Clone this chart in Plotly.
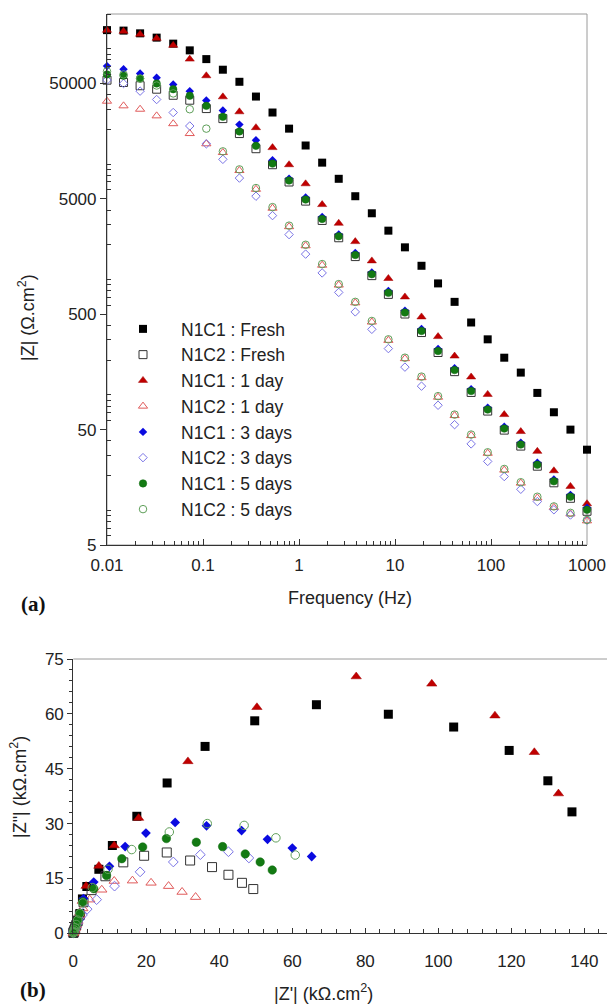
import math
import plotly.graph_objects as go

# ---------------- DATA ----------------
# Bode plot (a): frequency (Hz) and |Z| (Ohm.cm2)
freq = [0.01, 0.01487, 0.02212, 0.0329, 0.04894, 0.07279, 0.1083, 0.161, 0.2395, 0.3562,
        0.5298, 0.788, 1.172, 1.743, 2.593, 3.857, 5.736, 8.532, 12.69, 18.88,
        28.08, 41.76, 62.11, 92.37, 137.4, 204.3, 303.9, 452.0, 672.3, 1000.0]

z_c1_fresh = [145000, 143600, 136000, 124800, 110700, 96800, 81300, 65800, 51700, 38500,
              28000, 20300, 14500, 10300, 7460, 5270, 3750, 2650, 1900, 1315,
              925, 640, 424, 303, 210, 156, 104, 70.7, 50, 33.5]
z_c2_fresh = [53400, 51000, 47800, 44600, 39500, 35800, 30300, 24800, 18400, 13600,
              9880, 7000, 4780, 3250, 2300, 1580, 1080, 743, 502, 347,
              233, 159, 105, 72.4, 49.5, 36.0, 24.1, 17.3, 12.7, 9.8]
z_c1_1d = [144500, 141600, 133400, 123000, 107000, 81300, 58300, 38300, 28400, 20700,
           13900, 9880, 6750, 4460, 3070, 2130, 1450, 1020, 706, 474,
           320, 217, 143, 101, 67.5, 48.1, 32.4, 22.0, 16.1, 11.4]
z_c2_1d = [35100, 32000, 29900, 26200, 22400, 18400, 15000, 12600, 8800, 6050,
           4150, 2870, 1960, 1330, 895, 628, 428, 297, 206, 141,
           95.5, 66.2, 44.4, 31.2, 22.3, 17.2, 12.8, 10.6, 9.3, 8.1]
z_c1_3d = [70700, 66500, 61100, 56100, 49000, 42900, 35600, 29100, 22000, 16100,
           10800, 7460, 5130, 3480, 2460, 1700, 1150, 795, 537, 372,
           250, 170, 112, 77.5, 53, 38.5, 25.8, 18.5, 13.6, 10.5]
z_c2_3d = [53400, 50000, 42900, 36300, 28000, 21400, 15000, 11000, 7570, 5270,
           3580, 2450, 1660, 1140, 773, 524, 370, 252, 174, 119,
           81.3, 55.2, 37.6, 26.5, 19.6, 15.2, 11.9, 10.1, 9.1, 8.2]
z_c1_5d = [59900, 58300, 55200, 50000, 44600, 39100, 32000, 25700, 19200, 14400,
           10100, 7210, 4930, 3350, 2370, 1630, 1110, 766, 517, 358,
           240, 164, 108, 74.6, 51.0, 37.1, 24.8, 17.8, 13.1, 10.1]
z_c2_5d = [63600, 59900, 55200, 48000, 41000, 29900, 20300, 12900, 9000, 6200,
           4240, 2930, 2000, 1360, 912, 640, 437, 303, 210, 144,
           97.5, 67.5, 45.3, 31.8, 22.8, 17.5, 13.1, 10.8, 9.5, 8.25]

# Nyquist plot (b): Z' and Z'' (kOhm.cm2)
re_c1_fresh = [0.03, 0.08, 0.15, 0.3, 0.5, 0.8, 1.2, 1.8, 2.5, 3.7, 7.0, 10.7, 17.4, 25.7, 36.1, 49.7, 66.6, 86.3, 104.2, 119.4, 130.0, 136.6]
im_c1_fresh = [0.1, 0.25, 0.5, 0.9, 1.5, 2.4, 3.6, 5.4, 9.4, 12.8, 17.5, 24.0, 32.0, 41.1, 51.1, 58.1, 62.5, 59.9, 56.4, 50.0, 41.7, 33.2]
re_c2_fresh = [0.03, 0.08, 0.15, 0.3, 0.5, 0.8, 1.2, 1.8, 2.8, 5.0, 8.8, 13.7, 19.4, 25.6, 32.0, 38.0, 42.5, 46.2, 49.3]
im_c2_fresh = [0.1, 0.25, 0.5, 0.9, 1.4, 2.2, 3.3, 5.0, 8.5, 11.8, 15.6, 19.4, 21.2, 22.1, 19.9, 18.1, 16.0, 13.8, 12.1]
re_c1_1d = [0.03, 0.08, 0.15, 0.3, 0.5, 0.8, 1.2, 1.8, 2.5, 3.5, 7.0, 11.2, 17.9, 31.4, 50.3, 77.5, 98.2, 115.5, 126.3, 132.9]
im_c1_1d = [0.1, 0.25, 0.5, 0.9, 1.5, 2.4, 3.6, 5.6, 8.8, 12.9, 18.4, 24.0, 31.5, 47.0, 61.8, 70.2, 68.2, 59.5, 49.5, 38.2]
re_c2_1d = [0.03, 0.08, 0.15, 0.3, 0.5, 0.8, 1.2, 1.8, 2.6, 4.5, 7.8, 11.2, 16.2, 21.3, 26.1, 29.8, 33.5]
im_c2_1d = [0.1, 0.25, 0.5, 0.9, 1.4, 2.2, 3.3, 4.9, 6.8, 9.2, 11.9, 14.3, 14.4, 13.8, 12.9, 11.3, 9.9]
re_c1_3d = [0.03, 0.08, 0.15, 0.3, 0.5, 0.8, 1.2, 1.8, 2.8, 5.6, 9.9, 14.2, 19.9, 27.9, 36.5, 46.1, 53.2, 60.0, 65.3]
im_c1_3d = [0.1, 0.25, 0.5, 0.9, 1.5, 2.4, 3.6, 5.5, 9.5, 14.0, 18.3, 23.7, 27.4, 30.3, 29.4, 28.1, 25.7, 23.3, 21.0]
re_c2_3d = [0.03, 0.08, 0.15, 0.3, 0.5, 0.8, 1.2, 1.7, 2.5, 3.8, 6.4, 11.3, 18.3, 27.4, 34.8, 42.5, 48.1]
im_c2_3d = [0.1, 0.25, 0.5, 0.8, 1.3, 1.9, 2.8, 3.8, 5.0, 6.6, 9.2, 12.9, 16.8, 19.5, 21.5, 22.3, 20.6]
re_c1_5d = [0.03, 0.08, 0.15, 0.3, 0.5, 0.8, 1.2, 1.8, 2.6, 5.6, 9.1, 13.3, 19.0, 25.5, 33.7, 40.9, 47.1, 51.2, 54.5]
im_c1_5d = [0.1, 0.25, 0.5, 0.9, 1.5, 2.4, 3.6, 5.5, 8.6, 12.2, 15.8, 20.4, 23.6, 25.9, 24.9, 23.7, 21.7, 19.5, 17.3]
re_c2_5d = [0.03, 0.08, 0.15, 0.3, 0.5, 0.8, 1.2, 1.8, 2.6, 5.2, 9.5, 16.0, 26.3, 36.7, 46.8, 55.5, 60.8]
im_c2_5d = [0.1, 0.25, 0.5, 0.9, 1.5, 2.4, 3.6, 5.4, 8.3, 12.5, 17.5, 22.9, 27.7, 30.0, 29.5, 26.1, 21.4]

names = ["N1C1 : Fresh", "N1C2 : Fresh", "N1C1 : 1 day", "N1C2 : 1 day",
         "N1C1 : 3 days", "N1C2 : 3 days", "N1C1 : 5 days", "N1C2 : 5 days"]
x_ticks_a = [0.01, 0.1, 1, 10, 100, 1000]
x_ticktext_a = ["0.01", "0.1", "1", "10", "100", "1000"]
y_ticks_a = [5, 50, 500, 5000, 50000]
y_ticktext_a = ["5", "50", "500", "5000", "50000"]

# ---------------- STYLE ----------------
W, H = 607, 1007
def fx(p):
    return p / W
def fy(p):
    return 1 - p / H

bode = [z_c1_fresh, z_c2_fresh, z_c1_1d, z_c2_1d, z_c1_3d, z_c2_3d, z_c1_5d, z_c2_5d]
nyq = [(re_c1_fresh, im_c1_fresh), (re_c2_fresh, im_c2_fresh), (re_c1_1d, im_c1_1d),
       (re_c2_1d, im_c2_1d), (re_c1_3d, im_c1_3d), (re_c2_3d, im_c2_3d),
       (re_c1_5d, im_c1_5d), (re_c2_5d, im_c2_5d)]
styles = [
    dict(symbol="square", color="#000000", size=8, lc="#000000", lw=0),
    dict(symbol="square-open", color="#333333", size=8, lc="#333333", lw=1),
    dict(symbol="triangle-up", color="#c00000", size=8, lc="#a00000", lw=0.5),
    dict(symbol="triangle-up-open", color="#e05a5a", size=8, lc="#e05a5a", lw=1),
    dict(symbol="diamond", color="#0a0ae0", size=6.5, lc="#0a0ae0", lw=0),
    dict(symbol="diamond-open", color="#7a74e6", size=6.5, lc="#7a74e6", lw=1),
    dict(symbol="circle", color="#137a13", size=7.5, lc="#0f6a0f", lw=0.5),
    dict(symbol="circle-open", color="#5f9f5a", size=7.5, lc="#5f9f5a", lw=1),
]

FONT = "Arial, Liberation Sans, sans-serif"
TXT = "#222222"

fig = go.Figure()
for name, z, st in zip(names, bode, styles):
    fig.add_trace(go.Scatter(
        x=freq, y=z, mode="markers", name=name, xaxis="x", yaxis="y",
        cliponaxis=False,
        marker=dict(symbol=st["symbol"], size=st["size"], color=st["color"],
                    line=dict(color=st["lc"], width=st["lw"]))))
for name, (zr, zi), st in zip(names, nyq, styles):
    fig.add_trace(go.Scatter(
        x=zr, y=zi, mode="markers", name=name, xaxis="x2", yaxis="y2",
        showlegend=False, cliponaxis=False,
        marker=dict(symbol=st["symbol"], size=st["size"] + 1, color=st["color"],
                    line=dict(color=st["lc"], width=st["lw"]))))

minor_x = [m * 10 ** e for e in range(-2, 3) for m in range(2, 10)]
minor_y = [m * 10 ** e for e in range(0, 6) for m in range(1, 10)
           if 5 <= m * 10 ** e <= 200000 and m != 5]

axis_common = dict(showgrid=False, zeroline=False, showline=True, linecolor="#333333",
                   linewidth=1.2, tickcolor="#333333", automargin=False,
                   tickfont=dict(family=FONT, size=17, color=TXT))

def label(text, x, y, size=18, angle=0, family=FONT, color=TXT):
    return dict(text=text, x=fx(x), y=fy(y), xref="paper", yref="paper",
                xanchor="center", yanchor="middle", textangle=angle, showarrow=False,
                font=dict(family=family, size=size, color=color))

SERIF = "Liberation Serif, Times New Roman, serif"

fig.update_layout(
    template="none",
    width=W, height=H, margin=dict(l=0, r=0, t=0, b=0, pad=0, autoexpand=False),
    paper_bgcolor="white", plot_bgcolor="white",
    font=dict(family=FONT, color=TXT),
    xaxis=dict(type="log", range=[-2, 3], domain=[fx(107), fx(587)], anchor="y",
               tickmode="array", tickvals=x_ticks_a, ticktext=x_ticktext_a,
               ticks="inside", ticklen=6, tickwidth=1, ticklabelstandoff=4,
               minor=dict(tickmode="array", tickvals=minor_x, ticks="inside", ticklen=4,
                          tickcolor="#333333", tickwidth=1),
               **axis_common),
    yaxis=dict(type="log", range=[math.log10(5), math.log10(200000)],
               domain=[fy(545), fy(14)], anchor="x",
               tickmode="array", tickvals=y_ticks_a, ticktext=y_ticktext_a,
               ticks="outside", ticklen=6, tickwidth=1,
               minor=dict(tickmode="array", tickvals=minor_y, ticks="inside", ticklen=4,
                          tickcolor="#333333", tickwidth=1),
               **axis_common),
    xaxis2=dict(range=[0, 146.2], domain=[fx(73.3), 1.0], anchor="y2",
                tickmode="linear", tick0=0, dtick=20, ticks="inside", ticklen=5, tickwidth=1,
                ticklabelstandoff=12,
                minor=dict(dtick=4, ticks="inside", ticklen=4, tickcolor="#333333", tickwidth=1),
                **axis_common),
    yaxis2=dict(range=[0, 75], domain=[fy(933.3), fy(659)], anchor="x2",
                tickmode="linear", tick0=0, dtick=15, ticks="outside", ticklen=5, tickwidth=1,
                minor=dict(dtick=3, ticks="outside", ticklen=3, tickcolor="#333333", tickwidth=1),
                **axis_common),
    legend=dict(x=fx(105), y=fy(311), xanchor="left", yanchor="top",
                bgcolor="rgba(0,0,0,0)", borderwidth=0, itemwidth=66,
                font=dict(family=FONT, size=17.5, color=TXT), tracegroupgap=0),
    shapes=[
        dict(type="rect", xref="x domain", yref="y domain", x0=0, x1=1, y0=0, y1=1,
             line=dict(color="#9a9a9a", width=1), layer="below"),
        dict(type="line", xref="x2 domain", yref="y2 domain", x0=0, x1=1, y0=1, y1=1,
             line=dict(color="#9a9a9a", width=1), layer="below"),
    ],
    annotations=[
        label("|Z| (Ω.cm<sup>2</sup>)", 26, 318, angle=-90),
        label("Frequency (Hz)", 350, 598),
        label("<b>(a)</b>", 33, 604, size=21, family=SERIF, color="#111"),
        label("|Z\"| (kΩ.cm<sup>2</sup>)", 18, 787, angle=-90),
        label("|Z'| (kΩ.cm<sup>2</sup>)", 323, 992),
        label("<b>(b)</b>", 33, 990, size=21, family=SERIF, color="#111"),
    ],
)

fig.write_html("out.html")
